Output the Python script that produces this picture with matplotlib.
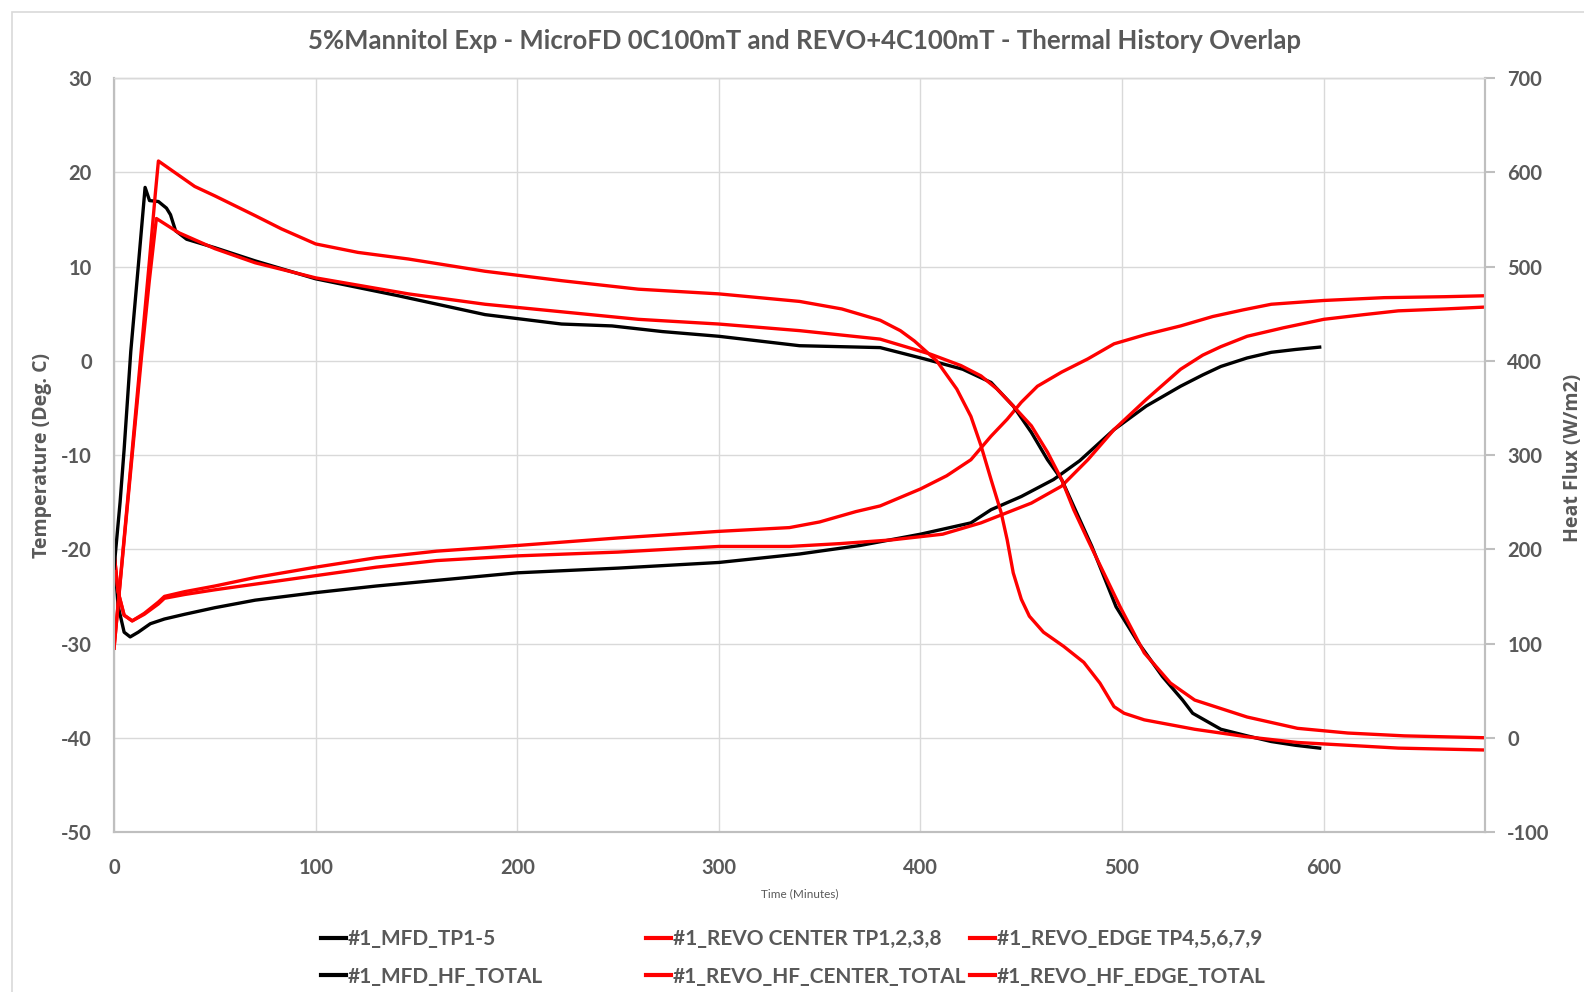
import matplotlib
matplotlib.use("Agg")
import matplotlib.pyplot as plt
from matplotlib.lines import Line2D
from matplotlib.patches import Rectangle

# ---- data (time in minutes) ----
# temperatures (deg C, left axis)
t_mfd_tp = [0, 2, 5, 8, 12, 18, 25, 35, 50, 70, 100, 130, 160, 200, 250, 300, 340, 370,
            400, 425, 435, 450, 466, 479, 496, 512, 529, 540, 549, 562, 574, 586, 598]
mfd_tp = [-20.5, -26.0, -28.8, -29.3, -28.8, -27.9, -27.4, -26.9, -26.2, -25.4, -24.6,
          -23.9, -23.3, -22.5, -22.0, -21.4, -20.5, -19.6, -18.4, -17.2, -15.8, -14.4,
          -12.6, -10.6, -7.3, -4.8, -2.7, -1.5, -0.6, 0.3, 0.9, 1.2, 1.45]

t_revo_edge = [0, 2, 5, 9, 15, 22, 25, 35, 50, 70, 100, 130, 160, 200, 250, 300, 335,
               350, 368, 380, 400, 413, 425, 435, 443, 450, 458, 470, 483, 496, 512,
               529, 545, 560, 574, 600, 630, 660, 680]
revo_edge = [-20.3, -24.5, -27.0, -27.6, -26.8, -25.6, -25.0, -24.5, -23.9, -23.0, -21.9,
             -20.9, -20.2, -19.6, -18.8, -18.1, -17.7, -17.1, -16.0, -15.4, -13.6, -12.2,
             -10.5, -8.0, -6.2, -4.4, -2.7, -1.2, 0.2, 1.8, 2.8, 3.7, 4.7, 5.4, 6.0,
             6.4, 6.7, 6.8, 6.9]

t_revo_center = [0, 2, 5, 9, 15, 22, 25, 35, 50, 70, 100, 130, 160, 200, 250, 300, 335,
                 360, 386, 411, 430, 455, 470, 483, 496, 512, 529, 540, 549, 562, 580,
                 600, 620, 637, 660, 680]
revo_center = [-20.3, -24.5, -27.0, -27.6, -26.9, -25.8, -25.2, -24.8, -24.3, -23.7, -22.8,
               -21.9, -21.2, -20.7, -20.3, -19.7, -19.7, -19.4, -19.0, -18.4, -17.2, -15.1,
               -13.3, -10.5, -7.3, -4.1, -0.9, 0.6, 1.5, 2.6, 3.5, 4.4, 4.9, 5.3, 5.5, 5.7]

# heat flux (W/m2, right axis)
t_mfd_hf = [0, 3, 5, 8.3, 12, 15.4, 17.6, 22, 26, 28, 30.5, 36, 50, 70, 100, 141, 184,
            222, 247, 272, 300, 340, 380, 402, 421, 435, 446, 455, 463, 470, 485, 497,
            508, 520, 530, 535, 549, 562, 574, 586, 598]
mfd_hf = [180, 250, 306, 410, 500, 584, 570, 569, 562, 555, 538, 529, 520, 506, 487, 469,
          449, 439, 437, 431, 426, 416, 414, 402, 391, 377, 352, 324, 295, 274, 203, 139,
          101, 65, 40, 26, 9, 2, -4, -8, -11]

t_revo_hf_edge = [0, 4.5, 9, 13.3, 17.5, 20.5, 22, 30, 40, 50, 70, 83, 100, 121, 146, 184,
                  222, 260, 300, 340, 361, 380, 390, 397, 408, 418, 425, 430, 435, 440, 443,
                  446, 450, 454, 461, 471, 481, 489, 496, 501, 511, 536, 562, 587, 637, 680]
revo_hf_edge = [95, 200, 305, 406, 505, 578, 612, 600, 585, 575, 554, 540, 524, 515, 508,
                495, 485, 476, 471, 463, 455, 443, 432, 421, 400, 370, 341, 310, 274, 239,
                210, 175, 147, 129, 112, 97, 80, 58, 33, 26, 19, 9, 1, -5, -11, -13]

t_revo_hf_center = [0, 4.5, 9, 13.7, 17.5, 21, 32, 50, 70, 100, 146, 184, 222, 260, 300,
                    340, 380, 405, 420, 430, 438, 446, 455, 463, 470, 476, 483, 499, 511,
                    524, 536, 562, 587, 612, 640, 680]
revo_hf_center = [95, 198, 300, 406, 485, 551, 536, 519, 504, 488, 471, 460, 452, 444, 439,
                  432, 423, 407, 395, 384, 370, 352, 331, 303, 274, 242, 210, 139, 90, 58,
                  40, 22, 10, 5, 2, 0]

labels_tp = ["#1_MFD_TP1-5", "#1_REVO CENTER TP1,2,3,8", "#1_REVO_EDGE TP4,5,6,7,9"]
labels_hf = ["#1_MFD_HF_TOTAL", "#1_REVO_HF_CENTER_TOTAL", "#1_REVO_HF_EDGE_TOTAL"]

# ---- style ----
txt = "#595959"
grid_c = "#d9d9d9"
axis_c = "#bfbfbf"
red = "#ff0000"
lw = 2.4
plt.rcParams["font.family"] = ["Lato", "DejaVu Sans"]
plt.rcParams["axes.unicode_minus"] = False

fig = plt.figure(figsize=(15.84, 9.92), dpi=100)
fig.patches.append(Rectangle((12 / 1584, -0.01), 1.0, 0.998, transform=fig.transFigure,
                             fill=False, edgecolor="#d9d9d9", lw=1.2))

ax = fig.add_axes([0.072, 0.1613, 0.8655, 0.760])
ax2 = ax.twinx()

ax.plot(t_mfd_tp, mfd_tp, color="black", lw=lw)
ax.plot(t_revo_center, revo_center, color=red, lw=lw)
ax.plot(t_revo_edge, revo_edge, color=red, lw=lw)
ax2.plot(t_mfd_hf, mfd_hf, color="black", lw=lw)
ax2.plot(t_revo_hf_center, revo_hf_center, color=red, lw=lw)
ax2.plot(t_revo_hf_edge, revo_hf_edge, color=red, lw=lw)

ax.set_xlim(0, 680)
ax.set_ylim(-50, 30)
ax2.set_ylim(-100, 700)
ax.set_xticks(range(0, 601, 100))
ax.set_yticks(range(-50, 31, 10))
ax2.set_yticks(range(-100, 701, 100))

ax.grid(True, color=grid_c, lw=1)
ax.set_axisbelow(True)
for a in (ax, ax2):
    for s in a.spines.values():
        s.set_color(axis_c)
        s.set_linewidth(1.5)
    a.spines["top"].set_color(grid_c)
    a.spines["top"].set_linewidth(1)

ax.tick_params(axis="both", length=0, labelsize=14.5, labelcolor=txt)
ax.tick_params(axis="y", pad=16)
ax.tick_params(axis="x", pad=19)
ax2.tick_params(axis="y", length=7, width=1.5, color=axis_c, labelsize=14.5,
                labelcolor=txt, pad=9)
for lab in ax.get_xticklabels() + ax.get_yticklabels() + ax2.get_yticklabels():
    lab.set_fontweight("bold")

ax.set_ylabel("Temperature (Deg. C)", fontsize=14, fontweight="bold", color=txt,
              family="Open Sans")
ax.yaxis.set_label_coords(-0.045, 0.5)
ax2.set_ylabel("Heat Flux (W/m2)", fontsize=14, fontweight="bold", color=txt,
               family="Open Sans")
ax2.yaxis.set_label_coords(1.057, 0.496)
ax.set_xlabel("Time (Minutes)", fontsize=8.5, color=txt, labelpad=7)

fig.text(0.508, 0.959, "5%Mannitol Exp - MicroFD 0C100mT and REVO+4C100mT - Thermal History Overlap",
         ha="center", va="center", fontsize=18.5, fontweight="bold", color=txt)

# legend: three columns placed like the reference
cols = [("black", 0), (red, 1), (red, 2)]
xs = [321 / 1584, 646 / 1584, 970 / 1584]
for (c, i), x in zip(cols, xs):
    h = [Line2D([], [], color=c, lw=3), Line2D([], [], color=c, lw=3)]
    leg = fig.legend(h, [labels_tp[i], labels_hf[i]], loc="upper left",
                     bbox_to_anchor=(x, 1 - 929 / 992), frameon=False,
                     fontsize=15, handlelength=1.2, handletextpad=0.1, labelspacing=0.84,
                     borderpad=0, borderaxespad=0)
    for t in leg.get_texts():
        t.set_color(txt)
        t.set_fontweight("bold")

fig.savefig("out.png", dpi=100)
